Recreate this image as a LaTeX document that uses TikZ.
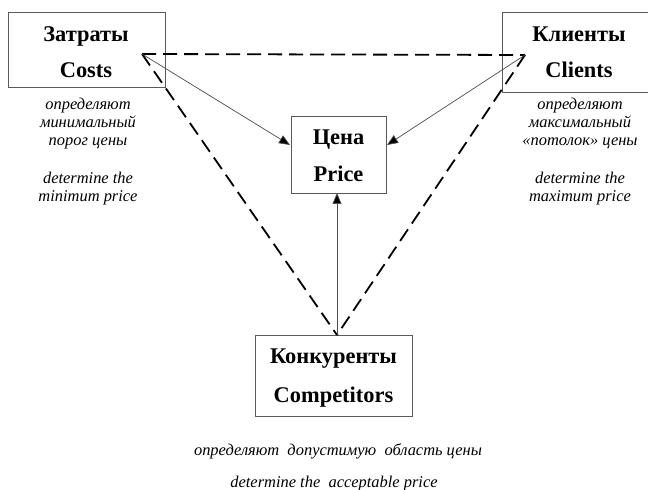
\documentclass[tikz,border=0pt]{standalone}
\usepackage{fontspec}
\setmainfont{Liberation Serif}
\usetikzlibrary{arrows.meta}
\begin{document}
\begin{tikzpicture}[x=1bp,y=-1bp,
  box/.style={draw=black!65, line width=0.9bp, inner sep=0pt},
  btxt/.style={inner sep=0pt, anchor=base, font=\fontsize{22.5}{26}\selectfont\bfseries},
  captxt/.style={inner sep=0pt, anchor=base, font=\fontsize{16.5}{18}\selectfont\itshape},
  dline/.style={line width=1.8bp, dash pattern=on 14bp off 7bp},
  arr/.style={line width=0.7bp, draw=black!70, -{Triangle[length=11bp,width=9bp,fill=black]}}
]
\useasboundingbox (0,0) rectangle (648,490);
% boxes
\node[box, minimum width=157bp, minimum height=75bp] (costs) at (86.5,49.5) {};
\node[box, minimum width=150bp, minimum height=80bp] (clients) at (577,52) {};
\node[box, minimum width=95bp, minimum height=77bp] (price) at (338.5,154.5) {};
\node[box, minimum width=157bp, minimum height=81bp] (comp) at (333.5,375.5) {};
% box texts
\node[btxt] (t1) at (86,41.5) {Затраты};
\node[btxt] (t2) at (86,78) {Costs};
\node[btxt] (t3) at (579,42) {Клиенты};
\node[btxt] (t4) at (579,78) {Clients};
\node[btxt] (t5) at (338.5,145) {Цена};
\node[btxt] (t6) at (338.5,182) {Price};
\node[btxt] (t7) at (333.5,363) {Конкуренты};
\node[btxt] (t8) at (333.5,402) {Competitors};
% captions
\node[captxt] (c1) at (88,110) {определяют};
\node[captxt] (c2) at (88,128) {минимальный};
\node[captxt] (c3) at (88,146) {порог цены};
\node[captxt] (c4) at (88,184) {determine the};
\node[captxt] (c5) at (88,202) {minimum price};
\node[captxt] (d1) at (580,110) {определяют};
\node[captxt] (d2) at (580,128) {максимальный};
\node[captxt] (d3) at (580,146) {«потолок» цены};
\node[captxt] (d4) at (580,184) {determine the};
\node[captxt] (d5) at (580,202) {maximum price};
\node[captxt] (e1) at (338,455) {определяют\ \ допустимую\ \ область цены};
\node[captxt] (e2) at (334,487) {determine the\ \ acceptable price};
% junction points
\coordinate (pa) at (142,54);
\coordinate (pb) at (525,55);
\coordinate (pc) at (337,335);
\coordinate (pl) at (290,145);
\coordinate (pr) at (387,145);
\coordinate (pd) at (337,193);
% dashed triangle
\draw[dline] (pa) -- (pb);
\draw[dline] (pa) -- (pc);
\draw[dline] (pb) -- (pc);
% arrows
\draw[arr] (pa) -- (pl);
\draw[arr] (pb) -- (pr);
\draw[arr] (pc) -- (pd);
\end{tikzpicture}
\end{document}
